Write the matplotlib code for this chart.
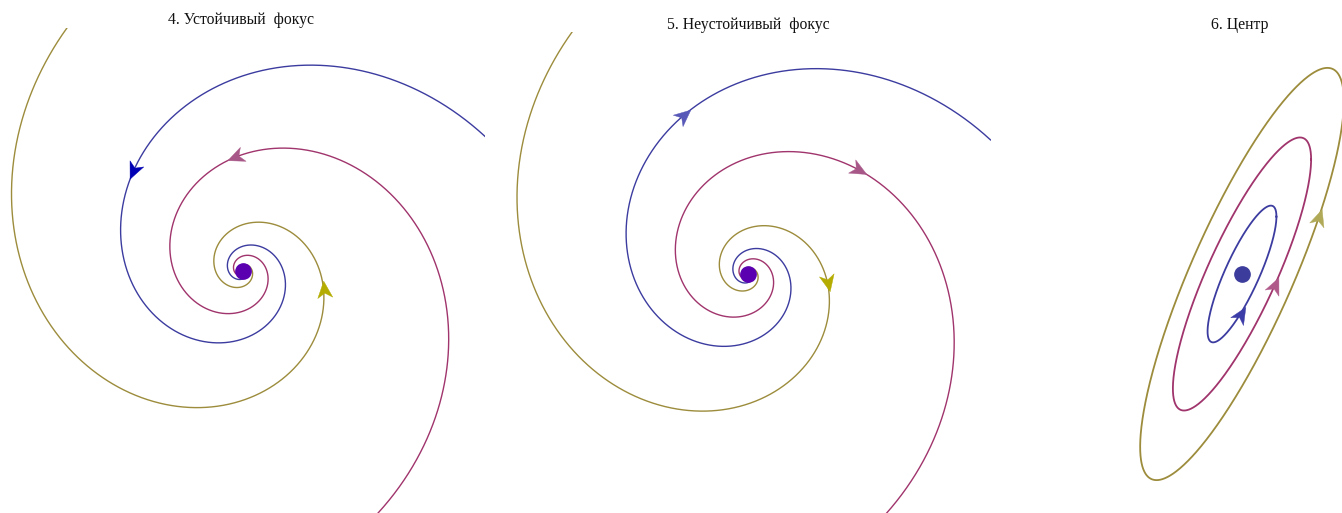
import numpy as np
import matplotlib.pyplot as plt
from matplotlib.markers import MarkerStyle
from matplotlib.path import Path
from matplotlib.transforms import Affine2D

plt.rcParams['font.family'] = ['Liberation Serif', 'DejaVu Serif']

W, H = 1342, 513

titles = ['4. Устойчивый  фокус', '5. Неустойчивый  фокус', '6. Центр']

# order of curves everywhere: blue, magenta, olive
line_colors = ['#3c3ca0', '#a0346c', '#9c8c3c']

# focus: dx/dt = a x - b y, dy/dt = b x + a y, |a|/b read from the turns
focus_decay = 0.332
focus_start_x = [1.0, 0.559, -0.724]
focus_start_y = [0.553, -1.0, 1.0]
focus_end_r = 0.03

stable_arrow_x = [-0.452, -0.031, 0.332]
stable_arrow_y = [0.412, 0.466, -0.078]
stable_arrow_colors = ['#0000b4', '#a85888', '#b4ac00']

unstable_arrow_x = [-0.26, 0.454, 0.33]
unstable_arrow_y = [0.647, 0.425, -0.037]
unstable_arrow_colors = ['#5858b8', '#a85888', '#b4ac00']

# centre: x = Ax cos t, y = Ay cos(t - phi)
center_ax = [0.142, 0.285, 0.42]
center_ay = [0.282, 0.563, 0.85]
center_phi_deg = 33
center_arrow_x = [-0.008, 0.134, 0.32]
center_arrow_y = [-0.161, -0.045, 0.235]
center_arrow_colors = ['#3c3ca8', '#b05a8a', '#b0aa58']

dot_colors = ['#5a00b0', '#5a00b0', '#3c3c9c']

# panel centres in pixels, half size in pixels (= 1 data unit)
panel_cx = [242.5, 748, 1242]
panel_cy = [270.5, 274, 274]
half = 242.5
title_x = [241, 748, 1240]
title_y = [20, 25, 25]

arrow_path = Path([(0.5, 0), (-0.5, 0.45), (-0.22, 0), (-0.5, -0.45), (0.5, 0)],
                  [Path.MOVETO, Path.LINETO, Path.LINETO, Path.LINETO, Path.CLOSEPOLY])


def draw_arrow(ax, xs, ys, px, py, color, reverse=False):
    i = int(np.argmin((xs - px) ** 2 + (ys - py) ** 2))
    i = min(max(i, 1), len(xs) - 2)
    dx, dy = xs[i + 1] - xs[i - 1], ys[i + 1] - ys[i - 1]
    if reverse:
        dx, dy = -dx, -dy
    ang = np.degrees(np.arctan2(dy, dx))
    m = MarkerStyle(arrow_path, transform=Affine2D().rotate_deg(ang))
    ax.plot(xs[i], ys[i], marker=m, ms=12, color=color, mec=color, mew=0.3, zorder=4)


def focus_curve(x0, y0):
    r0 = np.hypot(x0, y0)
    th0 = np.arctan2(y0, x0)
    t = np.linspace(0, np.log(r0 / focus_end_r) / focus_decay, 3000)
    r = r0 * np.exp(-focus_decay * t)
    return r * np.cos(th0 + t), r * np.sin(th0 + t)


fig = plt.figure(figsize=(W / 100, H / 100), dpi=100)
axes = []
for k in range(3):
    ax = fig.add_axes([(panel_cx[k] - half) / W, (H - panel_cy[k] - half) / H,
                       2 * half / W, 2 * half / H])
    ax.set_xlim(-1, 1)
    ax.set_ylim(-1, 1)
    ax.axis('off')
    axes.append(ax)
    fig.text(title_x[k] / W, 1 - title_y[k] / H, titles[k], ha='center', va='center',
             fontsize=11.3, color='#111111')

# stable and unstable focus (same trajectories, reversed time)
for k, (arr_x, arr_y, arr_c, rev) in enumerate([
        (stable_arrow_x, stable_arrow_y, stable_arrow_colors, False),
        (unstable_arrow_x, unstable_arrow_y, unstable_arrow_colors, True)]):
    ax = axes[k]
    for j in range(3):
        xs, ys = focus_curve(focus_start_x[j], focus_start_y[j])
        ax.plot(xs, ys, color=line_colors[j], lw=1.0)
        draw_arrow(ax, xs, ys, arr_x[j], arr_y[j], arr_c[j], reverse=rev)
    ax.plot(0, 0, 'o', ms=11, color=dot_colors[k], zorder=5)

# centre
ax = axes[2]
t = np.linspace(0, 2 * np.pi, 800)
phi = np.radians(center_phi_deg)
for j in range(3):
    xs = center_ax[j] * np.cos(t)
    ys = center_ay[j] * np.cos(t - phi)
    ax.plot(xs, ys, color=line_colors[j], lw=1.3)
    draw_arrow(ax, xs, ys, center_arrow_x[j], center_arrow_y[j], center_arrow_colors[j])
ax.plot(0, 0, 'o', ms=11, color=dot_colors[2], zorder=5)

fig.savefig('out.png', dpi=100)
